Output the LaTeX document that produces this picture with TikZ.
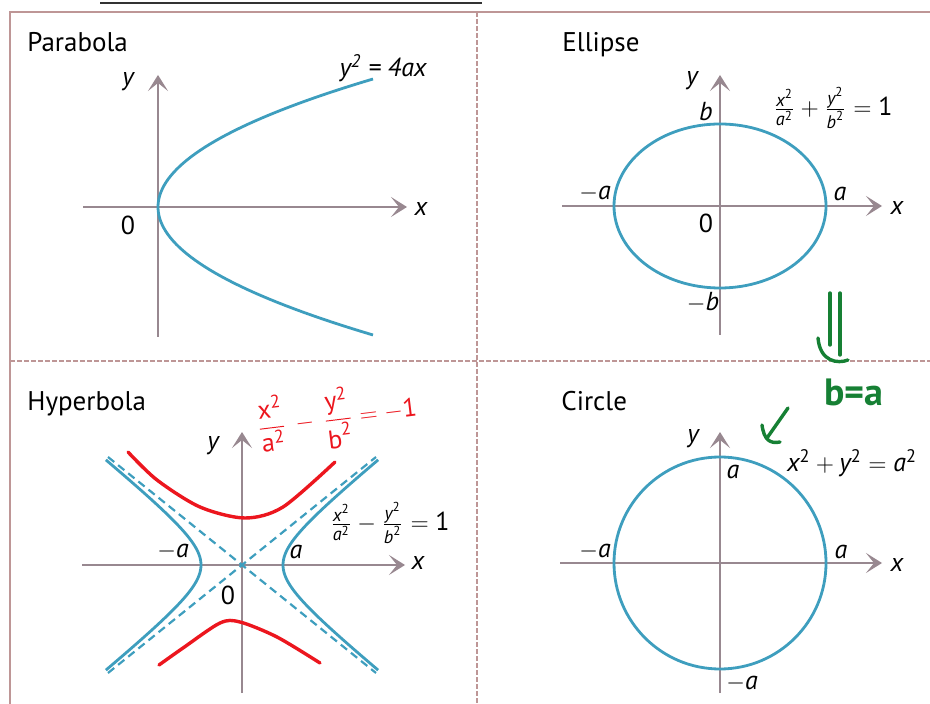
\documentclass[tikz,border=0pt]{standalone}
\usepackage{amsmath}
\usepackage{fontspec}
\setmainfont{PT Sans}
\usetikzlibrary{arrows.meta}
\definecolor{curveblue}{RGB}{62,158,190}
\definecolor{axisgray}{RGB}{152,136,144}
\definecolor{framerose}{RGB}{190,150,150}
\definecolor{inkred}{RGB}{236,22,30}
\definecolor{inkgreen}{RGB}{22,128,52}
\newcommand{\mv}[1]{\text{\itshape #1}}
\newcommand{\sq}{^{\text{2}}}

\begin{document}
\begin{tikzpicture}[x=0.5pt,y=-0.5pt,
  axis/.style={draw=axisgray,line width=1.1pt,-{Stealth[inset=4pt,length=8pt,width=10pt]}},
  curve/.style={draw=curveblue,line width=1.4pt},
  asym/.style={draw=curveblue,line width=1.1pt,dash pattern=on 4pt off 2.5pt},
  frame/.style={draw=framerose,line width=1pt},
  divider/.style={draw=framerose,line width=1pt,dash pattern=on 2.5pt off 1pt},
  title/.style={anchor=base west,inner sep=0pt,font=\fontsize{13.5}{15}\selectfont},
  lbl/.style={inner sep=1pt,font=\fontsize{13}{15}\selectfont\itshape},
  eq/.style={inner sep=1pt,font=\fontsize{13}{15}\selectfont},
  ink/.style={line width=1.7pt,line cap=round,line join=round}]
  \useasboundingbox (0,0) rectangle (930,704);
  % frame and dividers
  \draw[line width=1pt,black!80] (100,3) -- (482,3);
  \draw[frame] (10,704) -- (10,12) -- (930,12);
  \draw[divider] (477,12) -- (477,704);
  \draw[divider] (10,361) -- (930,361);
  \node[title] (parab) at (27,52) {Parabola};
  \node[title] (ellip) at (562,52) {Ellipse};
  \node[title] (hyper) at (27,411) {Hyperbola};
  \node[title] (circ) at (561,411) {Circle};

  % parabola
  \begin{scope}[shift={(158,207)}]
    \draw[axis] (-75,0) -- (249,0);
    \draw[axis] (0,130) -- (0,-132);
    \draw[curve] plot[domain=-128:128,samples=80] ({215*(\x/128)*(\x/128)},\x);
    \node[lbl] (px) at (263,2) {x};
    \node[lbl] (py) at (-30,-125) {y};
    \node[eq] (p0) at (-30,18) {0};
    \node[lbl] (peq) at (225,-139) {y\textsuperscript{2} = 4ax};
  \end{scope}

  % ellipse
  \begin{scope}[shift={(720,206)}]
    \draw[axis] (-158,0) -- (162,0);
    \draw[axis] (0,129) -- (0,-131);
    \draw[curve] (0,0) ellipse [x radius=53pt,y radius=41pt];
    \node[lbl] (ex) at (177,2) {x};
    \node[lbl] (ey) at (-28,-125) {y};
    \node[lbl] (eb) at (-14,-94) {b};
    \node[lbl] (ena) at (-125,-12) {$-$a};
    \node[lbl] (ea) at (120,-12) {a};
    \node[eq] (e0) at (-14,17) {0};
    \node[lbl] (enb) at (-17,96) {$-$b};
    \node[eq] (eeq) at (113,-98) {$\frac{\mv{x}\sq}{\mv{a}\sq}+\frac{\mv{y}\sq}{\mv{b}\sq}=\text{1}$};
  \end{scope}

  % hyperbola
  \begin{scope}[shift={(242,565)}]
    \draw[axis] (-160,0) -- (163,0);
    \draw[axis] (0,128) -- (0,-133);
    \draw[asym] (-134,-108) -- (134,108);
    \draw[asym] (-134,108) -- (134,-108);
    \draw[curve] plot[domain=-1.87:1.87,samples=60] ({41*cosh(\x)},{33.2*sinh(\x)});
    \draw[curve] plot[domain=-1.87:1.87,samples=60] ({-41*cosh(\x)},{33.2*sinh(\x)});
    \node[lbl] (hx) at (176,-2) {x};
    \node[lbl] (hy) at (-29,-119) {y};
    \node[lbl] (hna) at (-69,-13) {$-$a};
    \node[lbl] (ha) at (54,-13) {a};
    \node[eq] (h0) at (-14,30) {0};
    \node[eq] (heq) at (148,-42) {$\frac{\mv{x}\sq}{\mv{a}\sq}-\frac{\mv{y}\sq}{\mv{b}\sq}=\text{1}$};
  \end{scope}

  % circle
  \begin{scope}[shift={(720,563)}]
    \draw[axis] (-160,0) -- (162,0);
    \draw[axis] (0,130) -- (0,-131);
    \draw[curve] (0,0) circle [radius=53pt];
    \node[lbl] (cx) at (177,2) {x};
    \node[lbl] (cy) at (-27,-124) {y};
    \node[lbl] (cta) at (13,-91) {a};
    \node[lbl] (cna) at (-125,-11) {$-$a};
    \node[lbl] (ca) at (121,-11) {a};
    \node[lbl] (cba) at (22,120) {$-$a};
    \node[eq] (ceq) at (132,-100) {$\mv{x}\sq+\mv{y}\sq=\mv{a}\sq$};
  \end{scope}

  % hand-written notes
  \draw[ink,inkred] plot[smooth] coordinates {(128,452) (157,480) (200,507) (245,518) (283,507) (335,462)};
  \draw[ink,inkred] plot[smooth] coordinates {(159,665) (183,648) (220,623) (240,622) (277,637) (320,663)};
  \node[inkred,rotate=7,font=\fontsize{13}{15}\selectfont] (redeq) at (337,418)
    {$\displaystyle\frac{\text{x}\sq}{\text{a}\sq}\,-\,\frac{\text{y}\sq}{\text{b}\sq}=-\text{1}$};
  \draw[ink,inkgreen] (830,293) -- (830,345);
  \draw[ink,inkgreen] (840,293) -- (840,355);
  \draw[ink,inkgreen] (818,338) .. controls (820,362) and (838,364) .. (848,360);
  \node[inkgreen,font=\fontsize{19}{21}\selectfont\bfseries] (beqa) at (854,392) {b=a};
  \draw[ink,inkgreen] (788,408) -- (767,438);
  \draw[ink,inkgreen] (762,425) .. controls (764,440) and (770,444) .. (780,442);
\end{tikzpicture}
\end{document}
